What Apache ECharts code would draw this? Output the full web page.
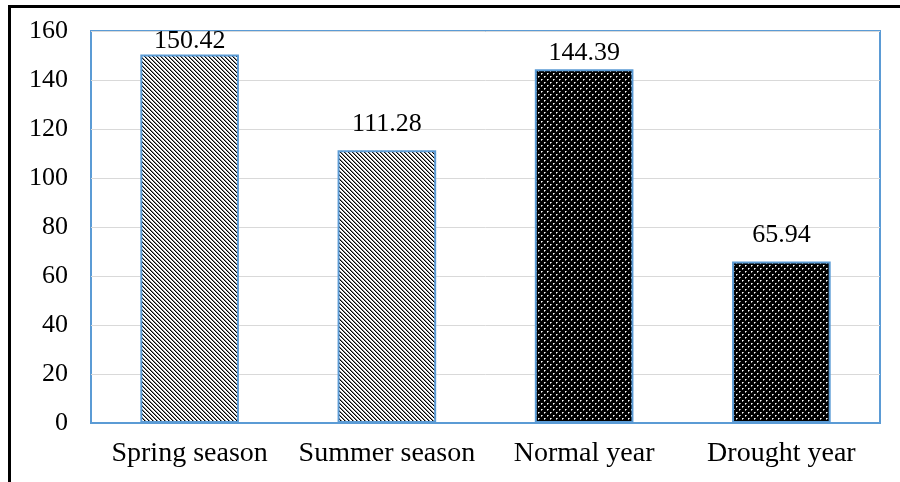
<!DOCTYPE html>
<html>
<head>
<meta charset="utf-8">
<script src="https://cdn.jsdelivr.net/npm/echarts@6/dist/echarts.min.js"></script>
<style>
  html, body { margin: 0; padding: 0; background: #fff; }
  #chart { width: 900px; height: 482px; }
</style>
</head>
<body>
<div id="chart"></div>
<script>
// Seasonal / yearly totals
const categories = ['Spring season', 'Summer season', 'Normal year', 'Drought year'];
const values = [150.42, 111.28, 144.39, 65.94];
const fillKinds = ['hatch', 'hatch', 'dots', 'dots'];
const yTicks = { min: 0, max: 160, step: 20 };

// Diagonal "\" hatch on white
function makeHatch() {
  const c = document.createElement('canvas');
  c.width = 4; c.height = 4;
  const g = c.getContext('2d');
  g.fillStyle = '#fff';
  g.fillRect(0, 0, 4, 4);
  for (let i = 0; i < 4; i++) {
    g.fillStyle = '#000';
    g.fillRect(i, i, 1, 1);
    g.fillStyle = '#888';
    g.fillRect((i + 1) % 4, i, 1, 1);
  }
  return c;
}

// Black fill with staggered white dots
function makeDots() {
  const c = document.createElement('canvas');
  c.width = 6; c.height = 6;
  const g = c.getContext('2d');
  g.fillStyle = '#000';
  g.fillRect(0, 0, 6, 6);
  const dot = (x, y) => {
    g.fillStyle = '#fff';
    g.fillRect(x, y, 1, 1);
    g.fillStyle = '#999';
    g.fillRect(x + 1, y, 1, 1);
    g.fillRect(x, y + 1, 1, 1);
  };
  dot(1, 1);
  dot(4, 4);
  return c;
}

const patterns = { hatch: makeHatch(), dots: makeDots() };
const blue = '#5B9BD5';
const serif = '"Liberation Serif", "Times New Roman", serif';
// label gap above each bar (the two tallest sit tight under the plot top)
const labelGaps = [0, 13, 3, 13];

const chart = echarts.init(document.getElementById('chart'), null, { renderer: 'canvas' });
chart.setOption({
  backgroundColor: '#fff',
  animation: false,
  graphic: [{
    type: 'rect',
    shape: { x: 9.5, y: 6.5, width: 1000, height: 1000 },
    style: { fill: 'none', stroke: '#000', lineWidth: 3 },
    silent: true
  }],
  grid: {
    left: 91, right: 20, top: 31, bottom: 59,
    show: true, borderColor: blue, borderWidth: 2, backgroundColor: 'transparent'
  },
  xAxis: {
    type: 'category',
    data: categories,
    axisLine: { show: true, lineStyle: { color: blue, width: 2 } },
    axisTick: { show: false },
    axisLabel: { interval: 0, color: '#000', fontFamily: serif, fontSize: 28, margin: 17 }
  },
  yAxis: {
    type: 'value',
    min: yTicks.min, max: yTicks.max, interval: yTicks.step,
    axisLine: { show: false },
    axisTick: { show: false },
    splitLine: { lineStyle: { color: '#d9d9d9', width: 1 } },
    axisLabel: { color: '#000', fontFamily: serif, fontSize: 26, margin: 23 }
  },
  series: [{
    type: 'bar',
    barWidth: '50%',
    data: values.map((v, i) => ({
      value: v,
      itemStyle: {
        color: { image: patterns[fillKinds[i]], repeat: 'repeat' },
        borderColor: blue,
        borderWidth: 2
      },
      label: { distance: labelGaps[i] }
    })),
    label: {
      show: true,
      position: 'top',
      color: '#000',
      fontFamily: serif,
      fontSize: 26,
      formatter: p => p.value.toFixed(2)
    }
  }]
});
</script>
</body>
</html>
